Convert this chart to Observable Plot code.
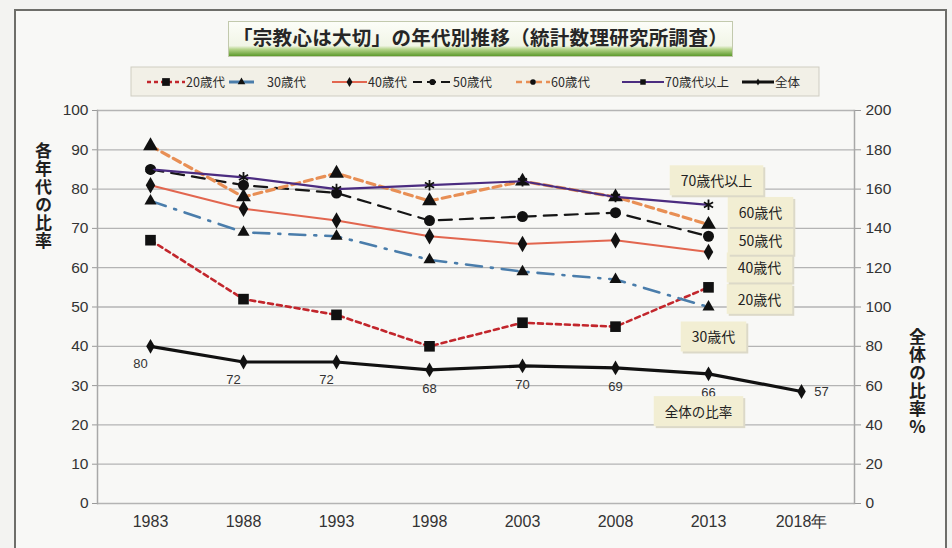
<!DOCTYPE html>
<html><head><meta charset="utf-8">
<script src="https://cdn.jsdelivr.net/npm/d3@7"></script>
<script src="https://cdn.jsdelivr.net/npm/@observablehq/plot@0.6"></script>
<style>
body{margin:0;background:#f3f3f1;}
#wrap{position:relative;width:952px;height:548px;overflow:hidden;font-family:"Noto Sans CJK JP","Noto Sans",sans-serif;}
#frame{position:absolute;left:14px;top:9px;width:929px;height:560px;border:2px solid #6e6e6a;background:#f8f8f6;}
#chart{position:absolute;left:0;top:0;}
#title{position:absolute;left:228px;top:21px;width:503px;height:34px;border:1px solid #c2c9ad;
 background:linear-gradient(to bottom,#fcfdf8 0%,#f1f5e6 70%,#b7d58c 80%,#5d9a2c 100%);
 font-size:19.5px;font-weight:bold;color:#262626;text-align:center;line-height:30px;letter-spacing:0.3px;white-space:nowrap;}
#legend{position:absolute;left:0;top:0;}
.vt{position:absolute;writing-mode:vertical-rl;text-orientation:upright;font-size:17px;font-weight:bold;color:#1e1e1e;letter-spacing:1px;}
</style>
</head><body>
<div id="wrap">
  <div id="frame"></div>
  <div id="chart"></div>
  <div id="title"></div>
  <svg id="legend" width="952" height="110"></svg>
  <div class="vt" id="ltitle" style="left:31px;top:142px;"></div>
  <div class="vt" id="rtitle" style="left:905px;top:328px;"></div>
</div>
<script>
// ---- data ----
const years = [1983, 1988, 1993, 1998, 2003, 2008, 2013, 2018];
const seriesNames = ["20歳代", "30歳代", "40歳代", "50歳代", "60歳代", "70歳代以上"];
const values20 = [67, 52, 48, 40, 46, 45, 55];
const values30 = [77, 69, 68, 62, 59, 57, 50];
const values40 = [81, 75, 72, 68, 66, 67, 64];
const values50 = [85, 81, 79, 72, 73, 74, 68];
const values60 = [91, 78, 84, 77, 82, 78, 71];
const values70 = [85, 83, 80, 81, 82, 78, 76];
const overallValues = [80, 72, 72, 68, 70, 69, 66, 57];
const leftTicks = [0, 10, 20, 30, 40, 50, 60, 70, 80, 90, 100];
const rightTickLabels = [0, 20, 40, 60, 80, 100, 120, 140, 160, 180, 200];
const legendNames = ["20歳代", "30歳代", "40歳代", "50歳代", "60歳代", "70歳代以上", "全体"];
const titleText = "「宗教心は大切」の年代別推移（統計数理研究所調査）";
const leftTitle = "各年代の比率";
const rightTitle = "全体の比率%";
const overallLabel = "全体の比率";

// ---- styles ----
const styles = {
  "20歳代": {stroke: "#c2262c", dash: "5,4", width: 2.6, symbol: "square", r: 6, fill: "#111", ldx: 51, ldy: 13},
  "30歳代": {stroke: "#4a7dab", dash: "16,9,2,9", width: 2.6, symbol: "triangle", r: 4.5, fill: "#111", ldx: 5, ldy: 31},
  "40歳代": {stroke: "#e2664f", dash: null, width: 2, symbol: "diamond", r: 5, fill: "#111", ldx: 51, ldy: 17},
  "50歳代": {stroke: "#151515", dash: "13,8", width: 2.2, symbol: "circle", r: 5.5, fill: "#111", ldx: 52, ldy: 5},
  "60歳代": {stroke: "#e88f55", dash: "8,5", width: 3.2, symbol: "triangle", r: 5.5, fill: "#111", ldx: 52, ldy: -11},
  "70歳代以上": {stroke: "#4b2c80", dash: null, width: 2.2, symbol: "asterisk", r: 5, fill: null, ldx: 8, ldy: -23}
};
const seriesValues = [values20, values30, values40, values50, values60, values70];
const numFont = "'Liberation Sans Narrow','Liberation Sans',sans-serif";

const rows = [];
seriesNames.forEach((s, i) => seriesValues[i].forEach((v, j) => rows.push({series: s, year: years[j], value: v})));
const overallRows = overallValues.map((v, j) => ({year: years[j], value: v}));

const marks = [];
marks.push(Plot.ruleY(leftTicks, {stroke: "#b4b4b4", strokeWidth: 1.3}));
marks.push(Plot.axisY({anchor: "left", ticks: leftTicks, tickSize: 5, tickPadding: 4, fontSize: 15.5, fontFamily: numFont, stroke: "#999", fill: "#333", label: null}));
marks.push(Plot.axisY({anchor: "right", ticks: leftTicks, tickFormat: (d, i) => rightTickLabels[i], tickSize: 6, tickPadding: 5, fontSize: 15.5, fontFamily: numFont, stroke: "#999", fill: "#333", label: null}));
marks.push(Plot.axisX({ticks: years, tickSize: 0, tickPadding: 12, fontSize: 16, fontFamily: numFont, fill: "#333", label: null,
  tickFormat: y => y === 2018 ? y + "年" : String(y)}));
marks.push(Plot.frame({anchor: "left", stroke: "#a8a8a8", strokeWidth: 1.5}));
marks.push(Plot.frame({anchor: "right", stroke: "#a8a8a8", strokeWidth: 1.5}));

seriesNames.forEach(s => {
  const st = styles[s];
  const data = rows.filter(d => d.series === s);
  marks.push(Plot.line(data, {x: "year", y: "value", stroke: st.stroke, strokeWidth: st.width, strokeDasharray: st.dash || undefined}));
  if (st.fill) marks.push(Plot.dot(data, {x: "year", y: "value", symbol: st.symbol, r: st.r, fill: st.fill, stroke: "none"}));
  else marks.push(Plot.dot(data, {x: "year", y: "value", symbol: st.symbol, r: st.r, stroke: "#111", strokeWidth: 1.8}));
});
marks.push(Plot.line(overallRows, {x: "year", y: d => d.value / 2, stroke: "#111", strokeWidth: 3.2}));
marks.push(Plot.dot(overallRows, {x: "year", y: d => d.value / 2, symbol: "diamond", r: 4.5, fill: "#111"}));
marks.push(Plot.text(overallRows.filter(d => d.year <= 1993), {x: "year", y: d => d.value / 2, text: "value", dx: -10, dy: 18, fontSize: 13, fontFamily: numFont, fill: "#333"}));
marks.push(Plot.text(overallRows.filter(d => d.year > 1993 && d.year < 2018), {x: "year", y: d => d.value / 2, text: "value", dy: 19, fontSize: 13, fontFamily: numFont, fill: "#333"}));
marks.push(Plot.text(overallRows.filter(d => d.year === 2018), {x: "year", y: d => d.value / 2, text: "value", dx: 20, fontSize: 13, fontFamily: numFont, fill: "#333"}));

// boxed series labels anchored to the last (2013) point of each series
seriesNames.forEach(s => {
  const st = styles[s];
  const last = rows.filter(d => d.series === s).slice(-1);
  marks.push(Plot.text(last, {x: "year", y: "value", text: () => s, dx: st.ldx, dy: st.ldy, fontSize: 14, fill: "#222", className: "boxed"}));
});
marks.push(Plot.text(overallRows.filter(d => d.year === 2013), {x: "year", y: d => d.value / 2, text: () => overallLabel, dx: -10, dy: 39, fontSize: 13.5, fill: "#222", className: "boxed"}));

const chart = Plot.plot({
  width: 952, height: 548,
  marginLeft: 97, marginRight: 98, marginTop: 110, marginBottom: 45,
  style: {background: "transparent", fontFamily: "'Noto Sans CJK JP',sans-serif"},
  x: {type: "point", domain: years, padding: 0.53},
  y: {domain: [0, 100]},
  marks
});
document.getElementById("chart").appendChild(chart);

// backgrounds for boxed labels
chart.querySelectorAll("g.boxed text").forEach(t => {
  const b = t.getBBox();
  const padX = 11, padY = 5;
  const tr = t.getAttribute("transform");
  const ns = "http://www.w3.org/2000/svg";
  const sh = document.createElementNS(ns, "rect");
  const r = document.createElementNS(ns, "rect");
  [[sh, 2, "#dcd9c8"], [r, 0, "#f2eed3"]].forEach(([el, o, f]) => {
    el.setAttribute("x", b.x - padX + o); el.setAttribute("y", b.y - padY + o);
    el.setAttribute("width", b.width + 2 * padX); el.setAttribute("height", b.height + 2 * padY);
    el.setAttribute("fill", f);
    if (tr) el.setAttribute("transform", tr);
    t.parentNode.insertBefore(el, t);
  });
});

document.getElementById("title").textContent = titleText;
document.getElementById("ltitle").textContent = leftTitle;
document.getElementById("rtitle").textContent = rightTitle;

// legend
const lg = d3.select("#legend");
lg.append("rect").attr("x", 131).attr("y", 67).attr("width", 688).attr("height", 29).attr("fill", "#f2f0e7").attr("stroke", "#cfcdc2");
const legendStyle = {
  "20歳代": {stroke: "#c2262c", dash: "4,3", w: 2.5, sym: d3.symbolSquare, size: 60, x0: 147, x1: 185},
  "30歳代": {stroke: "#4a7dab", dash: null, w: 3, sym: d3.symbolTriangle, size: 25, x0: 229, x1: 254, tx: 267},
  "40歳代": {stroke: "#e2664f", dash: null, w: 2, sym: d3.symbolDiamond, size: 30, x0: 332, x1: 367},
  "50歳代": {stroke: "#151515", dash: "9,5", w: 2.2, sym: d3.symbolCircle, size: 30, x0: 413, x1: 452},
  "60歳代": {stroke: "#e88f55", dash: "6,4", w: 2.5, sym: d3.symbolCircle, size: 25, x0: 516, x1: 550},
  "70歳代以上": {stroke: "#4b2c80", dash: null, w: 2.2, sym: d3.symbolSquare, size: 30, x0: 622, x1: 664},
  "全体": {stroke: "#111", dash: null, w: 3, sym: d3.symbolDiamond, size: 14, x0: 742, x1: 774}
};
legendNames.forEach(n => {
  const st = legendStyle[n];
  const y = 82;
  lg.append("line").attr("x1", st.x0).attr("x2", st.x1).attr("y1", y).attr("y2", y)
    .attr("stroke", st.stroke).attr("stroke-width", st.w).attr("stroke-dasharray", st.dash);
  lg.append("path").attr("d", d3.symbol(st.sym, st.size)()).attr("transform", `translate(${(st.x0 + st.x1) / 2},${y})`).attr("fill", "#111");
  lg.append("text").attr("x", (st.tx || st.x1 + 1)).attr("y", y).attr("dy", "0.36em").attr("font-size", 12.5)
    .attr("fill", "#2a2a2a").attr("font-family", "'Noto Sans CJK JP',sans-serif").text(n);
});
</script>
</body></html>
